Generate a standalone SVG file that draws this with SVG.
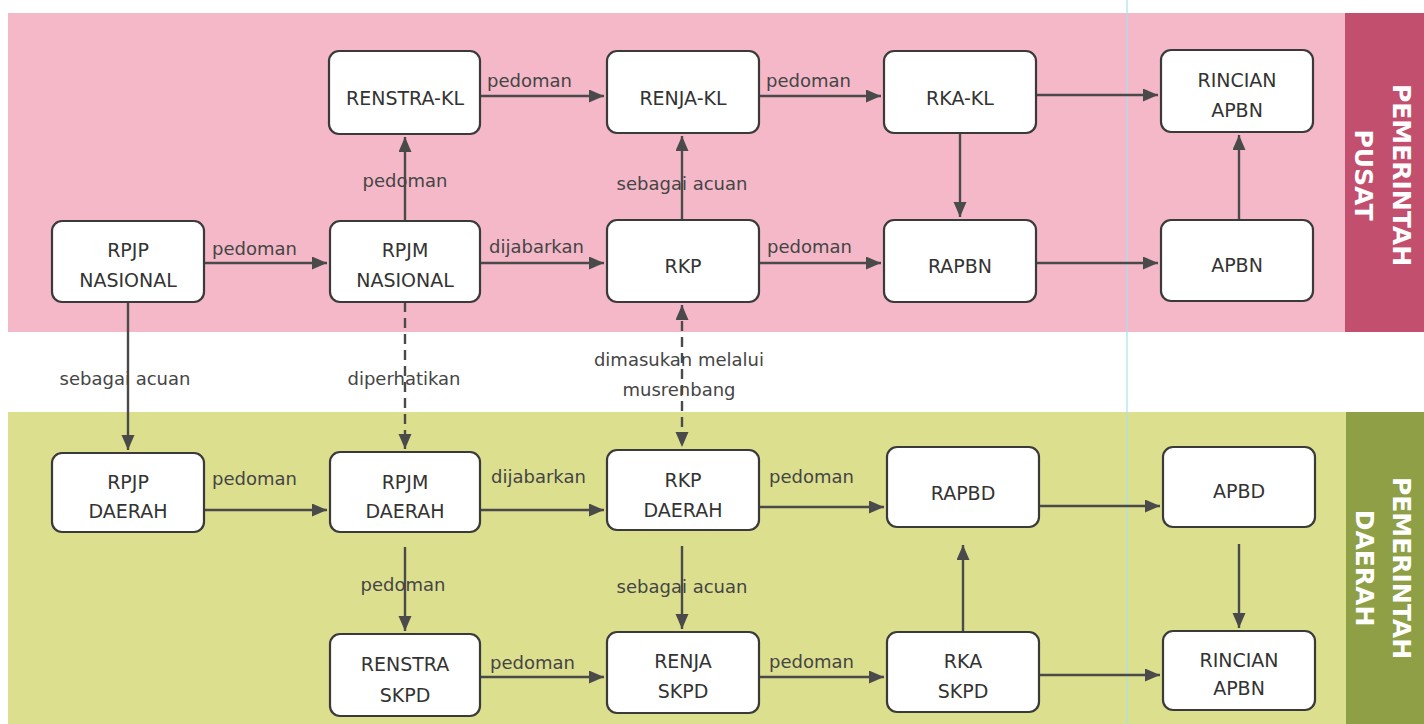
<svg xmlns="http://www.w3.org/2000/svg" width="1424" height="724" viewBox="0 0 1424 724">
<style>
.box{fill:#fff;stroke:#3a3a3a;stroke-width:2.2}
.nt{font-family:"DejaVu Sans",Verdana,sans-serif;font-size:19px;fill:#333;text-anchor:middle}
.lb{font-family:"DejaVu Sans",Verdana,sans-serif;font-size:18px;fill:#454545}
.mid{text-anchor:middle}
.ln{fill:none;stroke:#4a4a4a;stroke-width:2.4;marker-end:url(#ah)}
.dash{stroke-dasharray:10 6}
.side{font-family:"DejaVu Sans",Verdana,sans-serif;font-size:25px;font-weight:bold;fill:#fff;text-anchor:middle}
</style>
<defs>
<marker id="ah" markerUnits="userSpaceOnUse" markerWidth="16" markerHeight="14" refX="15" refY="6.5" orient="auto-start-reverse">
<path d="M0,0 L15,6.5 L0,13 z" fill="#4a4a4a"/>
</marker>
</defs>
<rect width="1424" height="724" fill="#fff"/>
<g id="bands">
<rect x="8" y="13" width="1337" height="319" fill="#f4b8c8"/>
<rect x="1345" y="13" width="79" height="319" fill="#c24f6e"/>
<rect x="8" y="412" width="1338" height="312" fill="#dcdf8e"/>
<rect x="1346" y="412" width="78" height="312" fill="#8e9f46"/>
<line x1="1127" y1="0" x2="1127" y2="724" stroke="#a6e2ea" stroke-width="1.2"/>
<text class="side" transform="translate(1393,175) rotate(90)">PEMERINTAH</text>
<text class="side" transform="translate(1355,175) rotate(90)">PUSAT</text>
<text class="side" transform="translate(1393,568) rotate(90)">PEMERINTAH</text>
<text class="side" transform="translate(1356,568) rotate(90)">DAERAH</text>
</g>
<g id="connectors">
<path class="ln" d="M480,96 H604"/>
<path class="ln" d="M759,96 H881"/>
<path class="ln" d="M1036,95 H1158"/>
<path class="ln" d="M405,221 V137"/>
<path class="ln" d="M682,220 V136"/>
<path class="ln" d="M960,133 V217"/>
<path class="ln" d="M1239,220 V135"/>
<path class="ln" d="M204,263 H327"/>
<path class="ln" d="M480,263 H604"/>
<path class="ln" d="M759,263 H881"/>
<path class="ln" d="M1036,263 H1158"/>
<path class="ln" d="M128,302 V450"/>
<path class="ln dash" d="M405,302 V449"/>
<path class="ln dash" d="M682,305 V447" marker-start="url(#ah)"/>
<path class="ln" d="M204,510 H327"/>
<path class="ln" d="M480,510 H604"/>
<path class="ln" d="M759,507 H884"/>
<path class="ln" d="M1039,506 H1160"/>
<path class="ln" d="M405,547 V631"/>
<path class="ln" d="M682,546 V629"/>
<path class="ln" d="M963,632 V545"/>
<path class="ln" d="M1239,544 V628"/>
<path class="ln" d="M480,677 H604"/>
<path class="ln" d="M759,677 H884"/>
<path class="ln" d="M1039,675 H1160"/>
<text class="lb" x="487" y="87">pedoman</text>
<text class="lb" x="766" y="87">pedoman</text>
<text class="lb mid" x="405" y="187">pedoman</text>
<text class="lb mid" x="682" y="190">sebagai acuan</text>
<text class="lb" x="212" y="255">pedoman</text>
<text class="lb" x="489" y="253">dijabarkan</text>
<text class="lb" x="767" y="253">pedoman</text>
<text class="lb mid" x="125" y="385">sebagai acuan</text>
<text class="lb mid" x="404" y="385">diperhatikan</text>
<text class="lb mid" x="679" y="366">dimasukan melalui</text>
<text class="lb mid" x="679" y="396">musrenbang</text>
<text class="lb" x="212" y="485">pedoman</text>
<text class="lb" x="491" y="483">dijabarkan</text>
<text class="lb" x="769" y="483">pedoman</text>
<text class="lb mid" x="403" y="591">pedoman</text>
<text class="lb mid" x="682" y="593">sebagai acuan</text>
<text class="lb" x="490" y="669">pedoman</text>
<text class="lb" x="769" y="668">pedoman</text>
</g>
<g id="renstra-kl"><rect class="box" x="329" y="51" width="151" height="83" rx="10"/><text class="nt" x="405" y="105">RENSTRA-KL</text></g>
<g id="renja-kl"><rect class="box" x="607" y="51" width="152" height="82" rx="10"/><text class="nt" x="683" y="105">RENJA-KL</text></g>
<g id="rka-kl"><rect class="box" x="884" y="51" width="152" height="82" rx="10"/><text class="nt" x="960" y="105">RKA-KL</text></g>
<g id="rincian-apbn-pusat"><rect class="box" x="1161" y="50" width="152" height="82" rx="10"/><text class="nt" x="1237" y="87">RINCIAN</text><text class="nt" x="1237" y="117">APBN</text></g>
<g id="rpjp-nasional"><rect class="box" x="52" y="221" width="152" height="81" rx="10"/><text class="nt" x="128" y="257">RPJP</text><text class="nt" x="128" y="287">NASIONAL</text></g>
<g id="rpjm-nasional"><rect class="box" x="330" y="221" width="150" height="81" rx="10"/><text class="nt" x="405" y="257">RPJM</text><text class="nt" x="405" y="287">NASIONAL</text></g>
<g id="rkp"><rect class="box" x="607" y="220" width="152" height="82" rx="10"/><text class="nt" x="683" y="273">RKP</text></g>
<g id="rapbn"><rect class="box" x="884" y="220" width="152" height="82" rx="10"/><text class="nt" x="960" y="273">RAPBN</text></g>
<g id="apbn"><rect class="box" x="1161" y="220" width="152" height="81" rx="10"/><text class="nt" x="1237" y="272">APBN</text></g>
<g id="rpjp-daerah"><rect class="box" x="52" y="453" width="152" height="79" rx="10"/><text class="nt" x="128" y="489">RPJP</text><text class="nt" x="128" y="518">DAERAH</text></g>
<g id="rpjm-daerah"><rect class="box" x="330" y="452" width="150" height="80" rx="10"/><text class="nt" x="405" y="489">RPJM</text><text class="nt" x="405" y="518">DAERAH</text></g>
<g id="rkp-daerah"><rect class="box" x="607" y="450" width="152" height="80" rx="10"/><text class="nt" x="683" y="487">RKP</text><text class="nt" x="683" y="517">DAERAH</text></g>
<g id="rapbd"><rect class="box" x="887" y="447" width="152" height="80" rx="10"/><text class="nt" x="963" y="500">RAPBD</text></g>
<g id="apbd"><rect class="box" x="1163" y="447" width="152" height="80" rx="10"/><text class="nt" x="1239" y="498">APBD</text></g>
<g id="renstra-skpd"><rect class="box" x="330" y="634" width="150" height="82" rx="10"/><text class="nt" x="405" y="671">RENSTRA</text><text class="nt" x="405" y="702">SKPD</text></g>
<g id="renja-skpd"><rect class="box" x="607" y="632" width="152" height="81" rx="10"/><text class="nt" x="683" y="668">RENJA</text><text class="nt" x="683" y="698">SKPD</text></g>
<g id="rka-skpd"><rect class="box" x="887" y="632" width="152" height="80" rx="10"/><text class="nt" x="963" y="668">RKA</text><text class="nt" x="963" y="698">SKPD</text></g>
<g id="rincian-apbn-daerah"><rect class="box" x="1163" y="631" width="152" height="79" rx="10"/><text class="nt" x="1239" y="667">RINCIAN</text><text class="nt" x="1239" y="695">APBN</text></g>
</svg>
